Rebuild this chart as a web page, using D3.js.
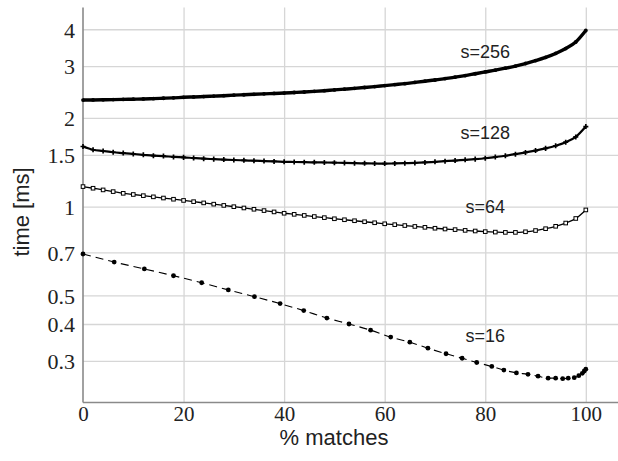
<!DOCTYPE html>
<html>
<head>
<meta charset="utf-8">
<script src="https://cdn.jsdelivr.net/npm/d3@7"></script>
<style>
body { margin: 0; background: #fff; }
.tick text { font-family: "Liberation Serif", "DejaVu Serif", serif; fill: #222; }
.grid line { stroke: #d6d6d6; stroke-width: 1.3; }
.grid path { display: none; }
</style>
</head>
<body>
<svg width="618" height="461"></svg>
<script>
var svg = d3.select("svg");

//==================================================
//Data

var xTicks = [0, 20, 40, 60, 80, 100];
var yTicks = [0.3, 0.4, 0.5, 0.7, 1, 1.5, 2, 3, 4];

//dense series share the same % matches samples
var pct = d3.range(0, 101, 2);

var s256 = [2.30, 2.302, 2.305, 2.308, 2.312, 2.316, 2.32, 2.326, 2.333, 2.34,
    2.35, 2.357, 2.364, 2.372, 2.38, 2.39, 2.398, 2.406, 2.414, 2.422,
    2.43, 2.44, 2.45, 2.462, 2.475, 2.49, 2.505, 2.52, 2.537, 2.555,
    2.575, 2.595, 2.615, 2.64, 2.665, 2.69, 2.72, 2.75, 2.785, 2.825,
    2.865, 2.905, 2.95, 3.0, 3.06, 3.13, 3.21, 3.31, 3.44, 3.62, 3.96];

var s128 = [1.60, 1.56, 1.545, 1.53, 1.52, 1.51, 1.50, 1.49, 1.485, 1.475,
    1.47, 1.462, 1.455, 1.45, 1.445, 1.44, 1.436, 1.432, 1.428, 1.424,
    1.42, 1.418, 1.416, 1.414, 1.412, 1.41, 1.408, 1.405, 1.403, 1.401,
    1.40, 1.402, 1.405, 1.408, 1.413, 1.42, 1.427, 1.434, 1.442, 1.45,
    1.46, 1.474, 1.489, 1.507, 1.528, 1.55, 1.577, 1.61, 1.655, 1.725, 1.87];

var s64 = [1.17, 1.155, 1.14, 1.125, 1.11, 1.10, 1.09, 1.08, 1.07, 1.06,
    1.05, 1.04, 1.03, 1.02, 1.01, 1.00, 0.99, 0.98, 0.97, 0.96,
    0.95, 0.942, 0.934, 0.926, 0.918, 0.91, 0.903, 0.896, 0.889, 0.882,
    0.875, 0.869, 0.863, 0.857, 0.851, 0.845, 0.840, 0.836, 0.831, 0.827,
    0.823, 0.82, 0.818, 0.818, 0.822, 0.83, 0.842, 0.858, 0.88, 0.912, 0.975];

//s=16 points are not evenly spaced
var pct16 = [0, 6.2, 12.2, 18.0, 23.6, 28.9, 34.1, 39.2, 43.9, 48.5, 52.9,
    57.2, 61.2, 65.0, 68.6, 72.2, 75.4, 78.3, 81.3, 83.7, 86.2, 88.5,
    90.5, 92.5, 94.0, 95.4, 96.5, 97.7, 98.6, 99.3, 99.7, 100];
var s16 = [0.691, 0.649, 0.615, 0.583, 0.552, 0.522, 0.495, 0.469, 0.444, 0.419, 0.400,
    0.381, 0.361, 0.347, 0.331, 0.317, 0.306, 0.296, 0.287, 0.279, 0.273, 0.270,
    0.266, 0.262, 0.262, 0.261, 0.262, 0.263, 0.267, 0.272, 0.277, 0.281];

var labelText = ["s=256", "s=128", "s=64", "s=16"];
var labelX = [80, 80, 80, 80];
var labelY = [3.20, 1.70, 0.952, 0.347];

//==================================================
//Scales

var mLeft = 83, mRight = 618, mTop = 7.5, mBottom = 402.5;

var x = d3.scaleLinear()
    .domain([0, 106.4])
    .range([mLeft, mRight]);

var y = d3.scaleLog()
    .domain([0.2166, 4.74])
    .range([mBottom, mTop]);

//==================================================
//Grid and axes

svg.append("g")
    .attr("class", "grid")
    .attr("transform", "translate(0," + mBottom + ")")
    .call(d3.axisBottom(x).tickValues(xTicks.slice(1)).tickSize(-(mBottom - mTop)).tickFormat(""));

svg.append("g")
    .attr("class", "grid")
    .attr("transform", "translate(" + mLeft + ",0)")
    .call(d3.axisLeft(y).tickValues(yTicks).tickSize(-(mRight - mLeft)).tickFormat(""));

//axis lines
svg.append("line")
    .attr("x1", mLeft).attr("x2", mLeft).attr("y1", mTop).attr("y2", mBottom)
    .attr("stroke", "#8a8a8a").attr("stroke-width", 1.6);
svg.append("line")
    .attr("x1", mLeft).attr("x2", mRight).attr("y1", mBottom).attr("y2", mBottom)
    .attr("stroke", "#8a8a8a").attr("stroke-width", 1.6);

var xAxis = svg.append("g")
    .attr("transform", "translate(0," + mBottom + ")")
    .call(d3.axisBottom(x).tickValues(xTicks).tickSize(0).tickPadding(18).tickFormat(d3.format("d")));
xAxis.select(".domain").remove();
xAxis.selectAll("text").style("font-size", "21px").attr("dy", "0");

var yAxis = svg.append("g")
    .attr("transform", "translate(" + mLeft + ",0)")
    .call(d3.axisLeft(y).tickValues(yTicks).tickSize(0).tickPadding(8).tickFormat(function(d) { return d; }));
yAxis.select(".domain").remove();
yAxis.selectAll("text").style("font-size", "22px").attr("dy", "0.36em");

//axis titles
svg.append("text")
    .attr("x", 334).attr("y", 445)
    .attr("text-anchor", "middle")
    .style("font-family", "'Liberation Sans', Arial, sans-serif")
    .style("font-size", "22px")
    .style("fill", "#222")
    .text("% matches");

svg.append("text")
    .attr("transform", "translate(29,212) rotate(-90)")
    .attr("text-anchor", "middle")
    .style("font-family", "'Liberation Sans', Arial, sans-serif")
    .style("font-size", "22px")
    .style("fill", "#222")
    .text("time [ms]");

//==================================================
//Series

var line = d3.line()
    .x(function(d) { return x(d[0]); })
    .y(function(d) { return y(d[1]); })
    .curve(d3.curveMonotoneX);

var series = [
    {name: "s256", xs: pct, ys: s256, width: 3.4, dash: null},
    {name: "s128", xs: pct, ys: s128, width: 2.2, dash: null},
    {name: "s64", xs: pct, ys: s64, width: 1.3, dash: null},
    {name: "s16", xs: pct16, ys: s16, width: 1.1, dash: "8,5"}
];

series.forEach(function(s) {
    var pts = s.xs.map(function(v, i) { return [v, s.ys[i]]; });
    svg.append("path")
        .attr("d", line(pts))
        .attr("fill", "none")
        .attr("stroke", "#000")
        .attr("stroke-width", s.width)
        .attr("stroke-dasharray", s.dash);

    var g = svg.append("g").attr("class", s.name);
    if (s.name == "s64") {
        //little hollow squares
        g.selectAll("rect").data(pts).enter().append("rect")
            .attr("x", function(d) { return x(d[0]) - 1.8; })
            .attr("y", function(d) { return y(d[1]) - 1.8; })
            .attr("width", 3.6).attr("height", 3.6)
            .attr("fill", "#fff").attr("stroke", "#000").attr("stroke-width", 1);
    } else if (s.name == "s128") {
        g.selectAll("path").data(pts).enter().append("path")
            .attr("d", d3.symbol(d3.symbolCross, 14))
            .attr("transform", function(d) { return "translate(" + x(d[0]) + "," + y(d[1]) + ")"; })
            .attr("fill", "#000");
    } else {
        g.selectAll("circle").data(pts).enter().append("circle")
            .attr("cx", function(d) { return x(d[0]); })
            .attr("cy", function(d) { return y(d[1]); })
            .attr("r", s.name == "s16" ? 2.4 : 1.9)
            .attr("fill", "#000");
    }
});

//series labels
svg.selectAll("text.lbl").data(labelText).enter().append("text")
    .attr("class", "lbl")
    .attr("x", function(d, i) { return x(labelX[i]); })
    .attr("y", function(d, i) { return y(labelY[i]); })
    .attr("text-anchor", "middle")
    .style("font-family", "'Liberation Sans', Arial, sans-serif")
    .style("font-size", "18px")
    .style("fill", "#222")
    .text(function(d) { return d; });
</script>
</body>
</html>
